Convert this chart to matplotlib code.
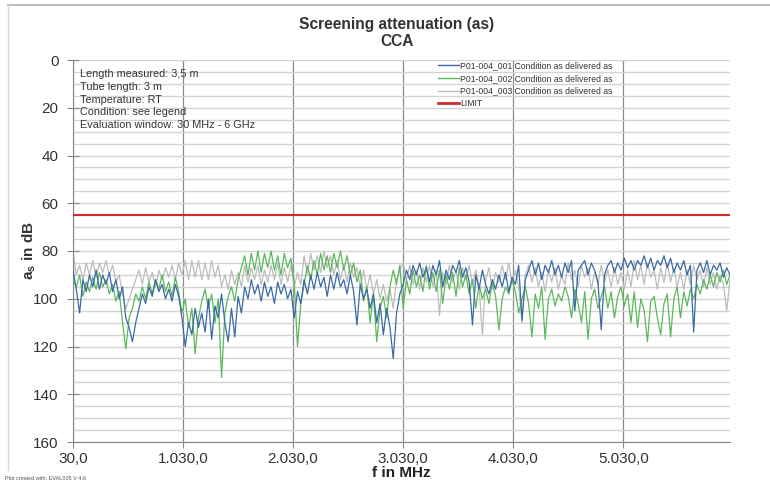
import numpy as np
import matplotlib
matplotlib.use('Agg')
import matplotlib.pyplot as plt
from matplotlib.lines import Line2D

plt.rcParams['font.family'] = ['Liberation Sans', 'DejaVu Sans']
plt.rcParams['mathtext.fontset'] = 'custom'
plt.rcParams['mathtext.rm'] = 'Liberation Sans'
plt.rcParams['mathtext.bf'] = 'Liberation Sans:bold'

# frequency grid in MHz (30 MHz steps)
freq = np.arange(30, 6001, 30)

# P01-004_001 (blue), values in dB
s001 = [88, 96, 106, 92, 97, 90, 95, 88, 96, 90,
        94, 89, 97, 92, 100, 95, 108, 112, 118, 110,
        104, 98, 102, 95, 99, 92, 97, 94, 100, 96,
        101, 94, 99, 108, 120, 110, 115, 104, 112, 106,
        114, 100, 117, 103, 108, 98, 110, 118, 104, 116,
        99, 106, 95, 100, 92, 98, 94, 101, 93, 99,
        95, 102, 93, 98, 94, 100, 96, 108, 97, 102,
        92, 98, 90, 96, 89, 95, 91, 99, 90, 96,
        89, 95, 92, 98, 90, 97, 111, 94, 100, 96,
        104, 98, 110, 102, 115, 104, 112, 125, 106, 98,
        94, 88, 92, 86, 90, 85, 91, 87, 93, 86,
        90, 84, 95, 88, 92, 86, 89, 84, 91, 87,
        93, 111, 90, 96, 88, 94, 98, 92, 96, 90,
        95, 89, 97, 91, 94, 86, 109, 92, 88, 84,
        90, 85, 92, 86, 89, 84, 90, 86, 91, 85,
        89, 84, 105, 88, 86, 84, 90, 85, 88, 93,
        113, 90, 86, 84, 89, 85, 88, 83, 87, 84,
        88, 84, 86, 82, 87, 83, 88, 84, 86, 82,
        87, 83, 89, 85, 88, 84, 90, 86, 114, 88,
        85, 89, 84, 90, 86, 88, 85, 91, 87, 90]

# P01-004_002 (green)
s002 = [92, 95, 90, 99, 93, 97, 91, 96, 89, 95,
        92, 98, 94, 101, 97, 110, 121, 108, 104, 98,
        101, 95, 100, 93, 98, 92, 96, 90, 97, 93,
        99, 91, 97, 106, 100, 112, 104, 123, 108, 101,
        96, 104, 98, 110, 100, 133, 106, 99, 95, 101,
        92, 87, 82, 90, 81, 88, 80, 89, 81, 87,
        80, 88, 82, 90, 81, 87, 83, 93, 120, 102,
        94, 86, 92, 84, 90, 81, 88, 82, 89, 81,
        87, 80, 88, 82, 90, 85, 93, 88, 101, 95,
        110, 98, 118, 104, 99, 108, 95, 88, 94, 86,
        104, 92, 98, 88, 95, 90, 97, 86, 96, 89,
        97, 88, 102, 90, 96, 89, 99, 87, 95, 90,
        98, 92, 104, 94, 100, 96, 102, 93, 99, 113,
        100, 95, 98, 92, 97, 106, 100, 95, 102, 116,
        98, 104, 95, 117, 100, 96, 103, 98, 101, 95,
        99, 108, 96, 102, 110, 97, 117, 100, 96, 104,
        99, 95, 104, 97, 108, 99, 95, 103, 98, 110,
        97, 112, 100, 105, 118, 101, 99, 108, 115, 102,
        98, 116, 100, 95, 108, 97, 103, 96, 100, 94,
        98, 92, 96, 90, 95, 89, 93, 88, 94, 90]

# P01-004_003 (grey)
s003 = [80, 90, 86, 92, 85, 90, 84, 91, 85, 89,
        84, 90, 86, 93, 90, 98, 104, 100, 96, 92,
        88, 94, 87, 93, 89, 95, 88, 92, 87, 91,
        86, 92, 85, 90, 84, 92, 84, 91, 84, 92,
        85, 92, 84, 91, 86, 95, 90, 96, 88, 94,
        89, 95, 86, 93, 87, 92, 86, 94, 88, 93,
        86, 92, 85, 94, 87, 93, 86, 95, 89, 94,
        82, 90, 81, 88, 82, 89, 80, 87, 82, 90,
        84, 92, 86, 93, 85, 91, 87, 95, 88, 96,
        90, 98, 92, 100, 94, 101, 96, 104, 92, 88,
        85, 92, 86, 94, 88, 96, 87, 93, 86, 95,
        88, 107, 89, 94, 86, 93, 88, 96, 87, 92,
        86, 94, 88, 95, 115, 92, 87, 96, 89, 93,
        86, 92, 85, 94, 88, 95, 110, 90, 86, 93,
        87, 95, 89, 97, 88, 93, 87, 96, 90, 94,
        85, 92, 88, 95, 86, 91, 87, 96, 89, 94,
        86, 93, 88, 95, 87, 94, 89, 96, 88, 95,
        84, 92, 86, 94, 85, 91, 88, 96, 87, 93,
        85, 93, 87, 95, 89, 96, 88, 94, 86, 92,
        88, 95, 87, 94, 89, 96, 90, 94, 105, 92]

limit = 65
xticks = [30, 1030, 2030, 3030, 4030, 5030]
xlabels = ['30,0', '1.030,0', '2.030,0', '3.030,0', '4.030,0', '5.030,0']
info = ['Length measured: 3,5 m', 'Tube length: 3 m', 'Temperature: RT',
        'Condition: see legend', 'Evaluation window: 30 MHz - 6 GHz']

fig = plt.figure(figsize=(7.7, 4.83), dpi=100)
ax = fig.add_axes([73/770, 41/483, 657/770, 382/483])

ax.plot(freq, s003, color='#bcbcbc', lw=0.9, zorder=2)
ax.plot(freq, s002, color='#5cb85c', lw=0.9, zorder=3)
ax.plot(freq, s001, color='#3a6aa5', lw=0.9, zorder=4)
ax.axhline(limit, color='#d42a2a', lw=1.5, zorder=5)

ax.set_xlim(30, 6000)
ax.set_ylim(160, 0)
ax.set_yticks(range(0, 161, 20))
ax.set_yticks(range(0, 161, 5), minor=True)
ax.set_xticks(xticks)
ax.set_xticklabels(xlabels)
ax.grid(True, axis='y', which='both', color='#d3d3d3', lw=1.0, zorder=0)
ax.grid(True, axis='x', which='major', color='#8a8a8a', lw=0.9, zorder=0)
ax.tick_params(axis='y', which='major', direction='inout', length=9, width=0.8,
               colors='#888888', labelcolor='#333333', labelsize=11, pad=6)
ax.tick_params(axis='y', which='minor', length=0)
ax.tick_params(axis='x', direction='out', length=4, colors='#888888',
               labelcolor='#333333', labelsize=11, pad=3)
for s in ['top', 'right']:
    ax.spines[s].set_visible(False)
for s in ['left', 'bottom']:
    ax.spines[s].set_color('#888888')

ax.set_ylabel(r'$\mathbf{a}_\mathbf{s}$ in dB', fontsize=11, fontweight='bold',
              color='#333333')
ax.yaxis.set_label_coords(-0.054, 0.5)
ax.set_xlabel('f in MHz', fontsize=11, fontweight='bold', color='#222222', labelpad=0)
fig.text(397/770, 1 - 33/483, 'Screening attenuation (as)\nCCA', ha='center',
         va='center', fontsize=11.2, fontweight='bold', color='#333333', linespacing=1.15)

ax.text(0.011, 0.977, '\n'.join(info), transform=ax.transAxes, ha='left', va='top',
        fontsize=7.8, color='#333333', linespacing=1.36)

handles = [Line2D([], [], color='#3a6aa5', lw=1.0),
           Line2D([], [], color='#5cb85c', lw=1.0),
           Line2D([], [], color='#bcbcbc', lw=1.0),
           Line2D([], [], color='#d42a2a', lw=2.0)]
labels = ['P01-004_001 Condition as delivered as', 'P01-004_002 Condition as delivered as',
          'P01-004_003 Condition as delivered as', 'LIMIT']
ax.legend(handles, labels, loc='upper left', bbox_to_anchor=(0.547, 1.012), frameon=False,
          fontsize=6.2, handlelength=2.4, handletextpad=0.15, labelspacing=0.42,
          borderaxespad=0.3, labelcolor='#333333')

# outer frame and footer
fig.add_artist(Line2D([8/770, 1.0], [1 - 5/483, 1 - 5/483], color='#b0b0b0', lw=1.2))
fig.add_artist(Line2D([8/770, 8/770], [1 - 5/483, 1 - 470/483], color='#d8d8d8', lw=1.0))
fig.text(5/770, 1 - 479/483, 'Plot created with: EVAL005 V 4.6', fontsize=4,
         color='#555555', va='center')

fig.savefig('out.png', dpi=100)
